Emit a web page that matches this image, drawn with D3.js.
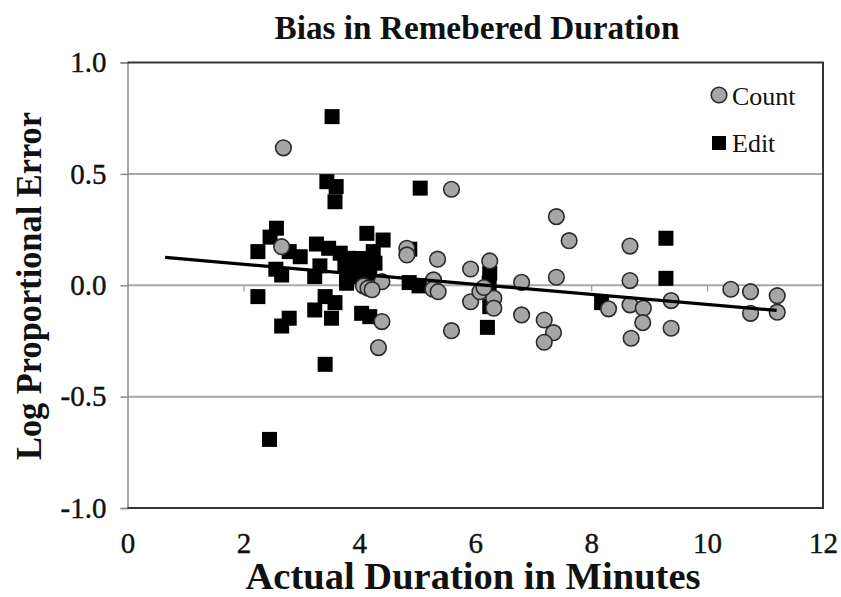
<!DOCTYPE html>
<html>
<head>
<meta charset="utf-8">
<script src="https://cdn.jsdelivr.net/npm/d3@7"></script>
<style>
  body { margin: 0; background: #fff; }
  svg text { font-family: "Liberation Serif", serif; fill: #111; }
</style>
</head>
<body>
<svg width="841" height="597"></svg>
<script>
// Count series (circles)
const countX = [2.69, 2.66, 4.82, 4.82, 4.07, 4.15, 4.39, 4.22, 4.39, 4.33, 5.59, 7.40, 7.62, 8.67, 5.35, 5.92, 6.25, 5.28, 5.27, 5.36,
  6.80, 7.40, 8.67, 5.92, 6.08, 6.32, 6.32, 6.80, 5.59, 7.19, 7.35, 7.19, 8.30, 8.67, 8.90, 8.89, 8.69, 9.38, 9.38, 10.41,
  10.75, 10.75, 11.21, 11.21, 6.15]
const countY = [0.617, 0.173, 0.166, 0.136, -0.003, -0.013, 0.016, -0.02, -0.163, -0.280, 0.431, 0.308, 0.200, 0.176, 0.117, 0.073, 0.109, 0.024, -0.018, -0.029,
  0.013, 0.036, 0.021, -0.074, -0.029, -0.058, -0.103, -0.133, -0.204, -0.156, -0.213, -0.256, -0.106, -0.088, -0.103, -0.168, -0.238, -0.069, -0.193, -0.018,
  -0.029, -0.126, -0.047, -0.121, -0.01]

// Edit series (squares)
const editX = [3.53, 3.44, 3.60, 3.58, 5.05, 2.57, 2.46, 2.25, 2.79, 2.98, 4.13, 4.41, 3.26, 3.47, 3.67, 3.81, 4.24, 2.56, 2.66, 3.32,
  3.23, 3.75, 3.95, 4.13, 4.27, 3.78, 4.87, 4.86, 5.03, 6.25, 6.24, 6.22, 6.25, 6.21, 8.18, 9.29, 9.29, 2.25, 2.79, 2.66,
  3.23, 3.41, 3.58, 3.52, 3.41, 2.45, 4.04, 4.18, 3.78, 3.93, 4.18, 4.00, 4.05, 4.20, 4.10]
const editY = [0.757, 0.465, 0.443, 0.375, 0.436, 0.256, 0.216, 0.151, 0.151, 0.128, 0.233, 0.203, 0.185, 0.166, 0.144, 0.121, 0.151, 0.072, 0.046, 0.087,
  0.039, 0.084, 0.099, 0.069, 0.099, 0.024, 0.162, 0.012, -0.003, 0.054, 0.010, -0.02, -0.096, -0.189, -0.078, 0.211, 0.031, -0.051, -0.148, -0.183,
  -0.111, -0.051, -0.078, -0.148, -0.355, -0.692, -0.126, -0.141, 0.009, 0.039, 0.054, 0.12, 0.08, 0.11, 0.02]

// trend line end points
const trendX = [0.65, 11.2]
const trendY = [0.125, -0.113]

const yTicks = [-1, -0.5, 0, 0.5, 1]
const xTicks = [0, 2, 4, 6, 8, 10, 12]

const svg = d3.select('svg')
const x = d3.scaleLinear().domain([0, 12]).range([127.5, 823])
const y = d3.scaleLinear().domain([-1, 1]).range([508, 62.5])

// gridlines
svg.append('g').selectAll('line').data([0.5, 0, -0.5]).enter().append('line')
  .attr('x1', x(0)).attr('x2', x(12))
  .attr('y1', d => y(d)).attr('y2', d => y(d))
  .attr('stroke', '#a8a8a8').attr('stroke-width', 2)

// left axis
const yAxis = svg.append('g').attr('transform', `translate(${x(0)},0)`)
  .call(d3.axisLeft(y).tickValues(yTicks).tickSize(7).tickPadding(14).tickFormat(d => d.toFixed(1)))
yAxis.select('.domain').attr('stroke', '#8a8a8a').attr('stroke-width', 1.5)
yAxis.selectAll('.tick line').attr('stroke', '#8a8a8a').attr('stroke-width', 1.5)
yAxis.selectAll('text').attr('font-size', 29).attr('font-family', 'Liberation Serif').attr('fill', '#111')
  .attr('stroke', '#111').attr('stroke-width', 0.4)

// x ticks on the zero line
const xAxis0 = svg.append('g').attr('transform', `translate(0,${y(0)})`)
  .call(d3.axisBottom(x).tickValues(xTicks.slice(1, -1)).tickSize(6).tickFormat(''))
xAxis0.select('.domain').remove()
xAxis0.selectAll('.tick line').attr('stroke', '#999').attr('stroke-width', 1.2)

// x labels at bottom
const xAxis = svg.append('g').attr('transform', `translate(0,${y(-1)})`)
  .call(d3.axisBottom(x).tickValues(xTicks).tickSize(0))
xAxis.select('.domain').remove()
xAxis.selectAll('text').attr('y', 45).attr('dy', null)
  .attr('font-size', 29).attr('font-family', 'Liberation Serif').attr('fill', '#111')
  .attr('stroke', '#111').attr('stroke-width', 0.4)

// plot frame top / right / bottom
svg.append('path')
  .attr('d', `M${x(0)},${y(1)}H${x(12)}V${y(-1)}H${x(0)}`)
  .attr('fill', 'none').attr('stroke', '#333').attr('stroke-width', 2)

// points
svg.append('g').selectAll('rect').data(editX).enter().append('rect')
  .attr('x', (d, i) => x(d) - 7.5)
  .attr('y', (d, i) => y(editY[i]) - 7.5)
  .attr('width', 15).attr('height', 15)
  .attr('fill', '#000')

svg.append('g').selectAll('circle').data(countX).enter().append('circle')
  .attr('cx', d => x(d))
  .attr('cy', (d, i) => y(countY[i]))
  .attr('r', 7.8)
  .attr('fill', '#a6a6a6')
  .attr('stroke', '#2a2a2a').attr('stroke-width', 1.6)

// trend line
svg.append('line')
  .attr('x1', x(trendX[0])).attr('y1', y(trendY[0]))
  .attr('x2', x(trendX[1])).attr('y2', y(trendY[1]))
  .attr('stroke', '#000').attr('stroke-width', 3.2)

// legend
svg.append('circle').attr('cx', 719).attr('cy', 95).attr('r', 7.8)
  .attr('fill', '#a6a6a6').attr('stroke', '#2a2a2a').attr('stroke-width', 1.6)
svg.append('text').attr('x', 732).attr('y', 105).attr('font-size', 26).text('Count')
svg.append('rect').attr('x', 712).attr('y', 136).attr('width', 14).attr('height', 14).attr('fill', '#000')
svg.append('text').attr('x', 732).attr('y', 152).attr('font-size', 26).text('Edit')

// titles
svg.append('text').attr('x', 477).attr('y', 39).attr('text-anchor', 'middle')
  .attr('font-size', 34).attr('font-weight', 'bold')
  .attr('textLength', 405).attr('lengthAdjust', 'spacingAndGlyphs')
  .text('Bias in Remebered Duration')

svg.append('text').attr('x', 473).attr('y', 589).attr('text-anchor', 'middle')
  .attr('font-size', 37).attr('font-weight', 'bold')
  .attr('textLength', 455).attr('lengthAdjust', 'spacingAndGlyphs')
  .text('Actual Duration in Minutes')

svg.append('text').attr('transform', 'translate(41,286) rotate(-90)').attr('text-anchor', 'middle')
  .attr('font-size', 35).attr('font-weight', 'bold')
  .attr('textLength', 348).attr('lengthAdjust', 'spacingAndGlyphs')
  .text('Log Proportional Error')
</script>
</body>
</html>
